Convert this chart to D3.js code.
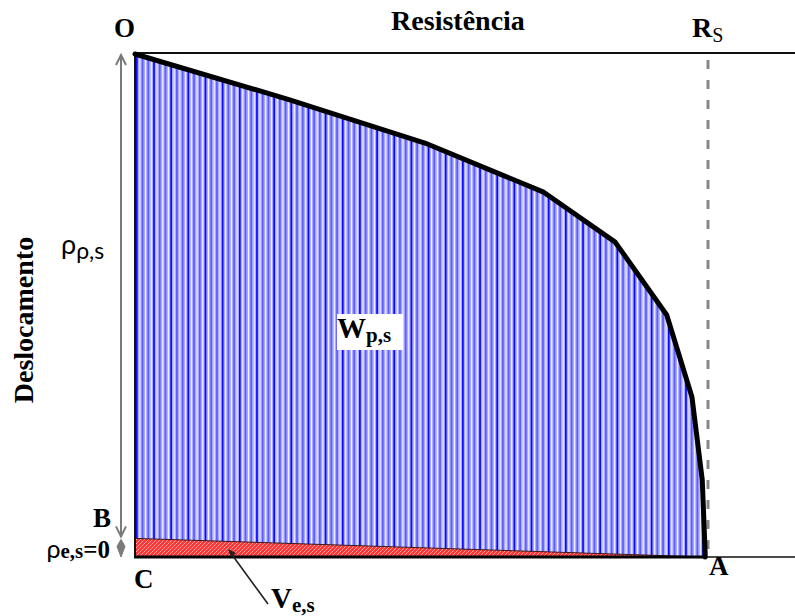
<!DOCTYPE html>
<html>
<head>
<meta charset="utf-8">
<script src="https://cdn.jsdelivr.net/npm/d3@7"></script>
<style>
  html, body { margin: 0; padding: 0; background: #fff; }
  svg { display: block; }
</style>
</head>
<body>
<div id="chart"></div>
<script>
// Resistance–displacement curve of the soil (plastic work W and elastic part V)
const resistance   = [0, 27, 50.6, 71.2, 83.8, 92.8, 97.2, 99.0, 99.5, 99.5];
const displacement = [0, 9.1, 17.7, 27.4, 37.4, 51.9, 68.2, 84.7, 99.2, 100];

// elastic rebound line B -> A
const elasticResistance   = [0, 99.5];
const elasticDisplacement = [96.3, 100];

// limit resistance Rs
const limitResistance = 100;

const W = 795, H = 616;
const svg = d3.select("#chart").append("svg")
  .attr("width", W).attr("height", H)
  .style("background", "#fff");

const x = d3.scaleLinear().domain([0, 100]).range([135, 708]);
const y = d3.scaleLinear().domain([0, 100]).range([54, 557]);

const curve = resistance.map((r, i) => [r, displacement[i]]);
const elastic = elasticResistance.map((r, i) => [r, elasticDisplacement[i]]);

const defs = svg.append("defs");

// diagonal hatch for the elastic region
const red = defs.append("pattern")
  .attr("id", "redHatch").attr("patternUnits", "userSpaceOnUse")
  .attr("width", 4).attr("height", 4);
red.append("rect").attr("width", 4).attr("height", 4).attr("fill", "#ff3535");
red.append("path").attr("d", "M-1,1 L1,-1 M0,4 L4,0 M3,5 L5,3")
  .attr("stroke", "#ffb4b4").attr("stroke-width", 0.9);

const line = d3.line().x(d => x(d[0])).y(d => y(d[1]));

// plastic work area: O -> curve -> A -> C
const plasticArea = curve.concat([[0, 100]]);
defs.append("clipPath").attr("id", "plasticClip")
  .append("path").attr("d", line(plasticArea) + "Z");

const gBlue = svg.append("g").attr("clip-path", "url(#plasticClip)");
gBlue.append("rect")
  .attr("x", x(0)).attr("y", y(0))
  .attr("width", x(100) - x(0)).attr("height", y(100) - y(0))
  .attr("fill", "#aaaaff");
const step = 5.72;
const stripes = d3.range(x(0) + 1, x(100), step);
gBlue.selectAll("rect.s").data(stripes).join("rect")
  .attr("class", "s")
  .attr("x", d => d).attr("y", y(0))
  .attr("width", 1.7).attr("height", y(100) - y(0))
  .attr("fill", (d, i) => i % 3 === 0 ? "#0a0aff" : "#5c5cff");
gBlue.selectAll("rect.w").data(stripes).join("rect")
  .attr("class", "w")
  .attr("x", d => d + 3.3).attr("y", y(0))
  .attr("width", 1.1).attr("height", y(100) - y(0))
  .attr("fill", "#f2f2ff");

// elastic region: B -> A -> C
const elasticArea = elastic.concat([[0, 100]]);
svg.append("path")
  .attr("d", line(elasticArea) + "Z")
  .attr("fill", "url(#redHatch)");
svg.append("path")
  .attr("d", line(elastic))
  .attr("fill", "none").attr("stroke", "#3a1a1a").attr("stroke-width", 1);

// frame lines
svg.append("line")
  .attr("x1", x(0)).attr("x2", W).attr("y1", 53).attr("y2", 53)
  .attr("stroke", "#111").attr("stroke-width", 2);
svg.append("line")
  .attr("x1", x(0)).attr("x2", x(0)).attr("y1", 53).attr("y2", y(100))
  .attr("stroke", "#111").attr("stroke-width", 2);
svg.append("line")
  .attr("x1", x(99.5)).attr("x2", W).attr("y1", y(100)).attr("y2", y(100))
  .attr("stroke", "#111").attr("stroke-width", 1.6);
svg.append("line")
  .attr("x1", x(0) - 1).attr("x2", x(99.5)).attr("y1", y(100)).attr("y2", y(100))
  .attr("stroke", "#000").attr("stroke-width", 3.2);

// limit resistance Rs (dashed)
svg.append("line")
  .attr("x1", x(limitResistance)).attr("x2", x(limitResistance))
  .attr("y1", 60).attr("y2", y(100) - 1)
  .attr("stroke", "#888").attr("stroke-width", 3)
  .attr("stroke-dasharray", "9,11");

// resistance–displacement curve
svg.append("path")
  .attr("d", line(curve))
  .attr("fill", "none").attr("stroke", "#000")
  .attr("stroke-width", 5).attr("stroke-linejoin", "round").attr("stroke-linecap", "round");

// displacement arrows on the left
const ax = 121;
const gray = "#7a7a7a";
svg.append("line").attr("x1", ax).attr("x2", ax).attr("y1", 55).attr("y2", y(elasticDisplacement[0]) - 2)
  .attr("stroke", gray).attr("stroke-width", 2);
svg.append("path").attr("d", `M${ax - 5},65 L${ax},55 L${ax + 5},65`)
  .attr("fill", "none").attr("stroke", gray).attr("stroke-width", 2);
const by = y(elasticDisplacement[0]) - 2;
svg.append("path").attr("d", `M${ax - 5},${by - 10} L${ax},${by} L${ax + 5},${by - 10}`)
  .attr("fill", "none").attr("stroke", gray).attr("stroke-width", 2);
// small double arrow for the elastic displacement
svg.append("path")
  .attr("d", `M${ax},${by + 3} L${ax + 4},${by + 10} L${ax},${y(100)} L${ax - 4},${by + 10} Z`)
  .attr("fill", gray).attr("stroke", gray).attr("stroke-width", 1);

// leader line to the elastic label
svg.append("line").attr("x1", 268).attr("y1", 604).attr("x2", 230).attr("y2", 552)
  .attr("stroke", "#222").attr("stroke-width", 1.6);
svg.append("path").attr("d", "M228,549 L236,553 L231,557 Z").attr("fill", "#222");

// text
const serif = "'Liberation Serif', 'Times New Roman', serif";
const sans = "Lato, 'Open Sans', sans-serif";

function label(tx, ty, parts, opts = {}) {
  const t = svg.append("text").attr("x", tx).attr("y", ty)
    .attr("font-family", opts.family || serif)
    .attr("text-anchor", opts.anchor || "start")
    .attr("fill", "#000");
  if (opts.transform) t.attr("transform", opts.transform);
  parts.forEach(p => {
    t.append("tspan")
      .attr("font-size", p.size)
      .attr("font-weight", p.weight || "bold")
      .attr("font-family", p.family || null)
      .attr("dy", p.dy || 0)
      .text(p.text);
  });
  return t;
}

label(114, 37, [{ text: "O", size: 27 }]);
label(458, 30, [{ text: "Resistência", size: 28 }], { anchor: "middle" });
label(692, 37, [{ text: "R", size: 28 }, { text: "S", size: 20, weight: "normal", dy: 5 }]);
label(33, 320, [{ text: "Deslocamento", size: 28 }], { anchor: "middle", transform: "rotate(-90 33 320)" });
label(93, 527, [{ text: "B", size: 27 }]);
label(134, 588, [{ text: "C", size: 27 }]);
label(709, 575, [{ text: "A", size: 27 }]);

label(61, 254, [
  { text: "ρ", size: 27, weight: "normal", family: sans },
  { text: "ρ,s", size: 23, weight: "normal", family: sans, dy: 5 }
]);
label(110, 558, [
  { text: "ρ", size: 25, weight: "normal", family: sans },
  { text: "e,s", size: 21, dy: 0 },
  { text: "=0", size: 25 }
], { anchor: "end" });

// W label on a white box
svg.append("rect").attr("x", 337).attr("y", 314).attr("width", 66).attr("height", 36).attr("fill", "#fff");
label(337, 338, [{ text: "W", size: 29 }, { text: "p,s", size: 21, dy: 4 }]);

label(271, 608, [{ text: "V", size: 29 }, { text: "e,s", size: 21, dy: 4 }]);
</script>
</body>
</html>
